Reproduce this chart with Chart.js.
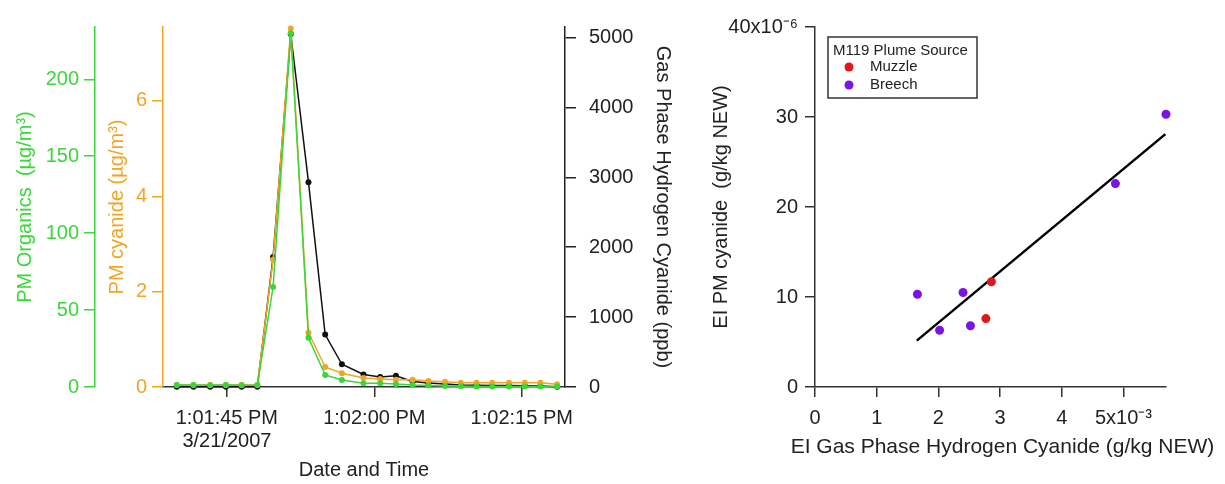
<!DOCTYPE html>
<html>
<head>
<meta charset="utf-8">
<script src="https://cdn.jsdelivr.net/npm/chart.js@4.4.1/dist/chart.umd.min.js"></script>
<style>
    html, body { margin: 0; padding: 0; background: #fff; }
    #wrap { position: relative; width: 1225px; height: 484px; }
    #timeChart { position: absolute; left: 0; top: 0; }
    #eiChart { position: absolute; left: 690px; top: 0; }
</style>
</head>
<body>
<div id="wrap">
    <canvas id="timeChart" width="690" height="484"></canvas>
    <canvas id="eiChart" width="535" height="484"></canvas>
</div>
<script>
// Time series: seconds after 1:01:00 PM on 3/21/2007
const seconds = [39.9, 41.6, 43.3, 44.9, 46.5, 48.1, 49.7, 51.5, 53.3, 55.0, 56.7, 58.9,
                 60.6, 62.2, 63.9, 65.5, 67.2, 68.8, 70.4, 72.0, 73.7, 75.3, 76.9, 78.6];
const pmOrganics = [1.3, 1.3, 1.2, 1.3, 1.2, 1.3, 65, 230, 32, 7.8, 4.6, 2.4,
                    2.4, 2.0, 1.3, 1.0, 0.7, 0.5, 0.4, 0.4, 0.4, 0.4, 0.4, 0.4];
const pmCyanide = [0.04, 0.04, 0.04, 0.04, 0.04, 0.04, 2.67, 7.52, 1.14, 0.42, 0.29, 0.19,
                   0.17, 0.15, 0.15, 0.125, 0.11, 0.09, 0.09, 0.09, 0.09, 0.09, 0.09, 0.06];
const gasHCN = [5, 5, 5, 5, 5, 5, 1860, 5050, 2930, 750, 325, 180,
                143, 162, 80, 57, 43, 30, 25, 22, 20, 18, 15, 5];

const timeTicks = [45, 60, 75];
const timeLabels = [['1:01:45 PM', '3/21/2007'], '1:02:00 PM', '1:02:15 PM'];
const organicsTicks = [0, 50, 100, 150, 200];
const cyanideTicks = [0, 2, 4, 6];
const hcnTicks = [0, 1000, 2000, 3000, 4000, 5000];

// Emission index scatter (x in 10^-3 g/kg, y in 10^-6 g/kg)
const muzzleX = [2.77, 2.86];
const muzzleY = [7.6, 11.7];
const breechX = [1.66, 2.02, 2.40, 2.52, 4.87, 5.69];
const breechY = [10.3, 6.3, 10.5, 6.8, 22.6, 30.3];
const fitX = [1.65, 5.68];
const fitY = [5.15, 28.1];
const eiXTicks = [0, 1, 2, 3, 4, 5];
const eiXLabels = ['0', '1', '2', '3', '4', '5x10⁻³'];
const eiYTicks = [0, 10, 20, 30, 40];
const eiYLabels = ['0', '10', '20', '30', '40x10⁻⁶'];
const eiXTitle = 'EI Gas Phase Hydrogen Cyanide (g/kg NEW)';

const FONT = "'Liberation Sans', Arial, sans-serif";
const GREEN = '#3bd63b';
const ORANGE = '#f0a524';
const INK = '#222';

Chart.defaults.font.family = FONT;
Chart.defaults.font.size = 20;

function pts(xs, ys) {
    return xs.map((x, i) => ({ x: x, y: ys[i] }));
}

function fixedTicks(values) {
    return scale => { scale.ticks = values.map(v => ({ value: v })); };
}

// vertical axis in the Igor style: outward ticks, no grid
function sideAxis(opts) {
    return {
        type: 'linear',
        position: opts.position,
        weight: opts.weight || 0,
        min: 0,
        max: opts.max,
        afterBuildTicks: fixedTicks(opts.ticks),
        afterFit: scale => { scale.width = opts.width; },
        grid: { drawOnChartArea: false, tickLength: 11, color: opts.color, lineWidth: 1.5 },
        border: { color: opts.color, width: 1.5 },
        ticks: {
            color: opts.color,
            padding: opts.pad,
            callback: opts.labels ? (v => opts.labels[opts.ticks.indexOf(v)]) : (v => v)
        },
        title: {
            display: true,
            text: opts.title,
            color: opts.color,
            padding: { top: opts.titlePad, bottom: 0 }
        }
    };
}

function lineSet(label, ys, color) {
    return {
        label: label,
        data: pts(seconds, ys),
        borderColor: color,
        backgroundColor: color,
        borderWidth: 1.5,
        pointRadius: 3,
        pointBorderWidth: 0,
        clip: false,
        yAxisID: label
    };
}

new Chart(document.getElementById('timeChart'), {
    type: 'line',
    data: {
        datasets: [
            lineSet('organics', pmOrganics, GREEN),
            lineSet('cyanide', pmCyanide, ORANGE),
            lineSet('hcn', gasHCN, '#111')
        ]
    },
    options: {
        responsive: false,
        animation: false,
        layout: { padding: { top: 27, left: 0, right: 0, bottom: 0 } },
        plugins: { legend: { display: false }, tooltip: { enabled: false } },
        scales: {
            x: {
                type: 'linear',
                position: 'bottom',
                min: 38.5,
                max: 79.4,
                afterBuildTicks: fixedTicks(timeTicks),
                afterFit: scale => { scale.height = 97; },
                grid: { drawOnChartArea: false, tickLength: 10, color: '#333', lineWidth: 1.5 },
                border: { color: '#333', width: 1.5 },
                ticks: {
                    color: INK,
                    padding: 10,
                    maxRotation: 0,
                    autoSkip: false,
                    font: { lineHeight: 1.15 },
                    callback: v => timeLabels[timeTicks.indexOf(v)]
                },
                title: { display: true, text: 'Date and Time', color: INK, padding: { top: 0, bottom: 2 } }
            },
            organics: sideAxis({
                position: 'left', weight: 2, max: 234, ticks: organicsTicks, width: 95,
                color: GREEN, pad: 5, title: 'PM Organics  (µg/m³)', titlePad: 13
            }),
            cyanide: sideAxis({
                position: 'left', weight: 1, max: 7.55, ticks: cyanideTicks, width: 68,
                color: ORANGE, pad: 5, title: 'PM cyanide (µg/m³)', titlePad: 10
            }),
            hcn: sideAxis({
                position: 'right', max: 5150, ticks: hcnTicks, width: 125,
                color: INK, pad: 13, title: 'Gas Phase Hydrogen Cyanide (ppb)', titlePad: 15
            })
        }
    }
});

// boxed legend in the upper left of the scatter plot, plus the long x title
// (the built-in title gets squeezed to the plot width)
const boxLegend = {
    id: 'boxLegend',
    afterDraw(chart) {
        const ctx = chart.ctx;
        const area = chart.chartArea;
        const x0 = area.left + 13;
        const y0 = area.top + 10;
        ctx.save();
        ctx.strokeStyle = '#333';
        ctx.lineWidth = 1.5;
        ctx.strokeRect(x0, y0, 149, 61);
        ctx.font = '15px ' + FONT;
        ctx.fillStyle = INK;
        ctx.textBaseline = 'middle';
        ctx.fillText('M119 Plume Source', x0 + 5, y0 + 14);
        chart.data.datasets.filter(d => d.showInLegend).forEach((d, i) => {
            const cy = y0 + 30 + i * 18;
            ctx.beginPath();
            ctx.fillStyle = d.backgroundColor;
            ctx.arc(x0 + 21, cy, 4.5, 0, Math.PI * 2);
            ctx.fill();
            ctx.fillStyle = INK;
            ctx.fillText(d.label, x0 + 42, cy);
        });

        ctx.font = '21px ' + FONT;
        ctx.textAlign = 'center';
        ctx.fillText(eiXTitle, (area.left + area.right) / 2 + 12, area.bottom + 60);
        ctx.restore();
    }
};

new Chart(document.getElementById('eiChart'), {
    type: 'scatter',
    data: {
        datasets: [
            {
                label: 'Muzzle', showInLegend: true,
                data: pts(muzzleX, muzzleY),
                backgroundColor: '#e01818', borderWidth: 0, pointRadius: 4.5, clip: false
            },
            {
                label: 'Breech', showInLegend: true,
                data: pts(breechX, breechY),
                backgroundColor: '#7a14e6', borderWidth: 0, pointRadius: 4.5, clip: false
            },
            {
                label: 'Fit', type: 'line',
                data: pts(fitX, fitY),
                borderColor: '#000', borderWidth: 2.5, pointRadius: 0, clip: false
            }
        ]
    },
    options: {
        responsive: false,
        animation: false,
        layout: { padding: { top: 27, left: 0, right: 59, bottom: 0 } },
        plugins: { legend: { display: false }, tooltip: { enabled: false } },
        scales: {
            x: {
                type: 'linear',
                min: 0,
                max: 5.69,
                afterBuildTicks: fixedTicks(eiXTicks),
                afterFit: scale => { scale.height = 97; },
                grid: { drawOnChartArea: false, tickLength: 10, color: '#333', lineWidth: 1.5 },
                border: { color: '#333', width: 1.5 },
                ticks: {
                    color: INK, padding: 9, maxRotation: 0, autoSkip: false,
                    callback: v => eiXLabels[eiXTicks.indexOf(v)]
                },
                title: { display: false }
            },
            y: {
                type: 'linear',
                min: 0,
                max: 40,
                afterBuildTicks: fixedTicks(eiYTicks),
                afterFit: scale => { scale.width = 125; },
                grid: { drawOnChartArea: false, tickLength: 10, color: '#333', lineWidth: 1.5 },
                border: { color: '#333', width: 1.5 },
                ticks: {
                    color: INK, padding: 7,
                    callback: v => eiYLabels[eiYTicks.indexOf(v)]
                },
                title: {
                    display: true, text: 'EI PM cyanide  (g/kg NEW)',
                    color: INK, padding: { top: 19, bottom: 0 }
                }
            }
        }
    },
    plugins: [boxLegend]
});
</script>
</body>
</html>
